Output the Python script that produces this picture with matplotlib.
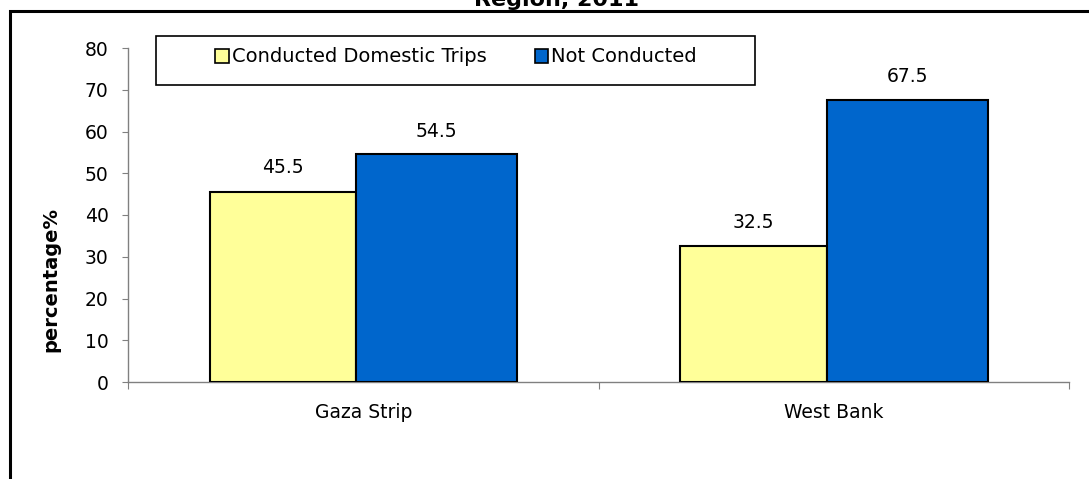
import matplotlib.pyplot as plt
from matplotlib.patches import Patch, Rectangle

# data
categories = ['Gaza Strip', 'West Bank']
conducted = [45.5, 32.5]
not_conducted = [54.5, 67.5]
series_names = ['Conducted Domestic Trips', 'Not Conducted']
colors = ['#FFFF99', '#0066CC']

plt.rcParams['font.family'] = ['DejaVu Sans']

W, H = 1089, 479
fig = plt.figure(figsize=(W / 100, H / 100), dpi=100)
ax = fig.add_axes([128 / W, 1 - 382 / H, (1069 - 128) / W, (382 - 48) / H])

# bar geometry (in category units)
x0 = [i + 0.174 for i in range(len(categories))]
w_yel = 0.311
w_blu = 0.342
ax.bar(x0, conducted, width=w_yel, align='edge', color=colors[0],
       edgecolor='black', linewidth=1.5, zorder=3)
ax.bar([x + w_yel for x in x0], not_conducted, width=w_blu, align='edge',
       color=colors[1], edgecolor='black', linewidth=1.5, zorder=3)

# value labels
for i in range(len(categories)):
    ax.annotate(f'{conducted[i]:.1f}', (x0[i] + w_yel / 2, conducted[i]),
                xytext=(0, 10.5), textcoords='offset points',
                ha='center', va='bottom', fontsize=13.5)
    ax.annotate(f'{not_conducted[i]:.1f}', (x0[i] + w_yel + w_blu / 2, not_conducted[i]),
                xytext=(0, 10), textcoords='offset points',
                ha='center', va='bottom', fontsize=13.5)

ax.set_xlim(0, 2)
ax.set_ylim(0, 80)
ax.set_yticks(range(0, 81, 10))
ax.set_xticks([0, 1, 2])
ax.set_xticklabels([])
ax.set_xticks([0.5, 1.5], minor=True)
ax.set_xticklabels(categories, minor=True, fontsize=13.5)
ax.tick_params(axis='x', which='minor', length=0, pad=15)
ax.tick_params(axis='x', which='major', direction='out', length=5, color='#808080')
ax.tick_params(axis='y', direction='out', length=4, color='#808080',
               labelsize=13.5, pad=10)

for s in ['top', 'right']:
    ax.spines[s].set_visible(False)
for s in ['left', 'bottom']:
    ax.spines[s].set_color('#808080')
    ax.spines[s].set_linewidth(1.0)

fig.text(51 / W, 1 - 280 / H, 'percentage%', rotation=90, ha='center', va='center',
         fontsize=14, fontweight='bold')

# legend with its own box
handles = [Patch(facecolor=c, edgecolor='black', linewidth=1.2) for c in colors]
fig.legend(handles, series_names, loc='center', bbox_to_anchor=(456 / W, 1 - 57 / H),
           ncol=2, frameon=False, fontsize=14, handlelength=0.7, handleheight=0.7,
           handletextpad=0.15, columnspacing=2.5)
fig.patches.append(Rectangle((156 / W, 1 - 85 / H), (755 - 156) / W, 49 / H,
                             transform=fig.transFigure, fill=False,
                             edgecolor='black', linewidth=1.2))

# outer frame (runs off the right and bottom)
fig.patches.append(Rectangle((10 / W, -0.2), 1.2, 1.2 - 11 / H,
                             transform=fig.transFigure, fill=False,
                             edgecolor='black', linewidth=2.2))

# title, mostly cut off at the top
fig.text(556 / W, 1 - 6 / H, 'Region, 2011', ha='center', va='baseline',
         fontsize=16, fontweight='bold')

fig.savefig('out.png', dpi=100)
